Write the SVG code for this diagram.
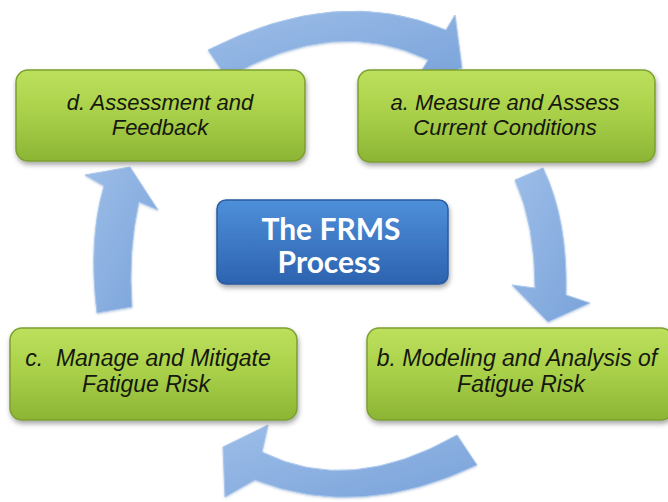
<svg xmlns="http://www.w3.org/2000/svg" width="668" height="502" viewBox="0 0 668 502">
<defs>
  <linearGradient id="gGreen" x1="0" y1="0" x2="0" y2="1">
    <stop offset="0" stop-color="#bde05c"/>
    <stop offset="0.5" stop-color="#a8cf48"/>
    <stop offset="1" stop-color="#8cb535"/>
  </linearGradient>
  <linearGradient id="gBlue" x1="0" y1="0" x2="0" y2="1">
    <stop offset="0" stop-color="#4f8fd9"/>
    <stop offset="1" stop-color="#2c63b0"/>
  </linearGradient>
  <linearGradient id="gArrow" x1="0" y1="0" x2="1" y2="1">
    <stop offset="0" stop-color="#9cbde8"/>
    <stop offset="1" stop-color="#7aa3da"/>
  </linearGradient>
  <filter id="shadow" x="-10%" y="-10%" width="120%" height="135%">
    <feDropShadow dx="1" dy="3" stdDeviation="2.5" flood-color="#000" flood-opacity="0.35"/>
  </filter>
  <filter id="ashadow" x="-10%" y="-10%" width="120%" height="130%">
    <feDropShadow dx="0" dy="1" stdDeviation="1" flood-color="#5a7fb0" flood-opacity="0.35"/>
  </filter>
</defs>
<style>
  .box { fill: url(#gGreen); stroke: #7c9f31; stroke-width: 1.5; filter: url(#shadow); }
  .center { fill: url(#gBlue); stroke: #2a5b9f; stroke-width: 1.5; filter: url(#shadow); }
  .arrow { fill: url(#gArrow); stroke: #aac7ec; stroke-width: 1; filter: url(#ashadow); }
  .lbl { font-family: "Liberation Sans", Arial, sans-serif; font-style: italic; fill: #15180e; text-anchor: middle; }
  .up { font-size: 22px; }
  .lo { font-size: 23px; }
  .ctr { font-family: Lato, "Open Sans", sans-serif; font-weight: bold; font-size: 30px; fill: #ffffff; text-anchor: middle; }
</style>
<rect width="668" height="502" fill="#ffffff"/>
<g id="connectors">
  <path class="arrow" d="M 208,50 Q 338,-16 446,30 L 455,15 L 462,68 L 413,85 L 428,60 Q 335,15 227,78 Z"/>
  <path class="arrow" d="M 515,180 Q 535,225 535,288 L 512,285 L 548,322 L 590,303 L 566,295 Q 568,220 543,168 Z"/>
  <path class="arrow" d="M 457,435 Q 350,496 262,452 L 268,425 L 223,447 L 225,497 L 255,480 Q 360,521 477,465 Z"/>
  <path class="arrow" d="M 97,313 Q 88,240 104,186 L 85,175 L 130,167 L 158,210 L 139,202 Q 128,250 132,307 Z"/>
</g>
<g id="node-d">
  <rect class="box" x="16" y="70" width="289" height="91" rx="12"/>
  <text class="lbl up" x="160" y="110">d. Assessment and</text>
  <text class="lbl up" x="160" y="135">Feedback</text>
</g>
<g id="node-a">
  <rect class="box" x="358" y="70" width="297" height="92" rx="12"/>
  <text class="lbl up" x="505" y="110">a. Measure and Assess</text>
  <text class="lbl up" x="505" y="135">Current Conditions</text>
</g>
<g id="node-c">
  <rect class="box" x="10" y="328" width="287" height="92" rx="12"/>
  <text class="lbl lo" x="148" y="366" xml:space="preserve">c.  Manage and Mitigate</text>
  <text class="lbl lo" x="146" y="392">Fatigue Risk</text>
</g>
<g id="node-b">
  <rect class="box" x="367" y="328" width="306" height="92" rx="12"/>
  <text class="lbl lo" x="517" y="366">b. Modeling and Analysis of</text>
  <text class="lbl lo" x="521" y="392">Fatigue Risk</text>
</g>
<g id="node-center">
  <rect class="center" x="217" y="200" width="231" height="84" rx="9"/>
  <text class="ctr" x="331" y="240">The FRMS</text>
  <text class="ctr" x="329" y="273">Process</text>
</g>
</svg>
